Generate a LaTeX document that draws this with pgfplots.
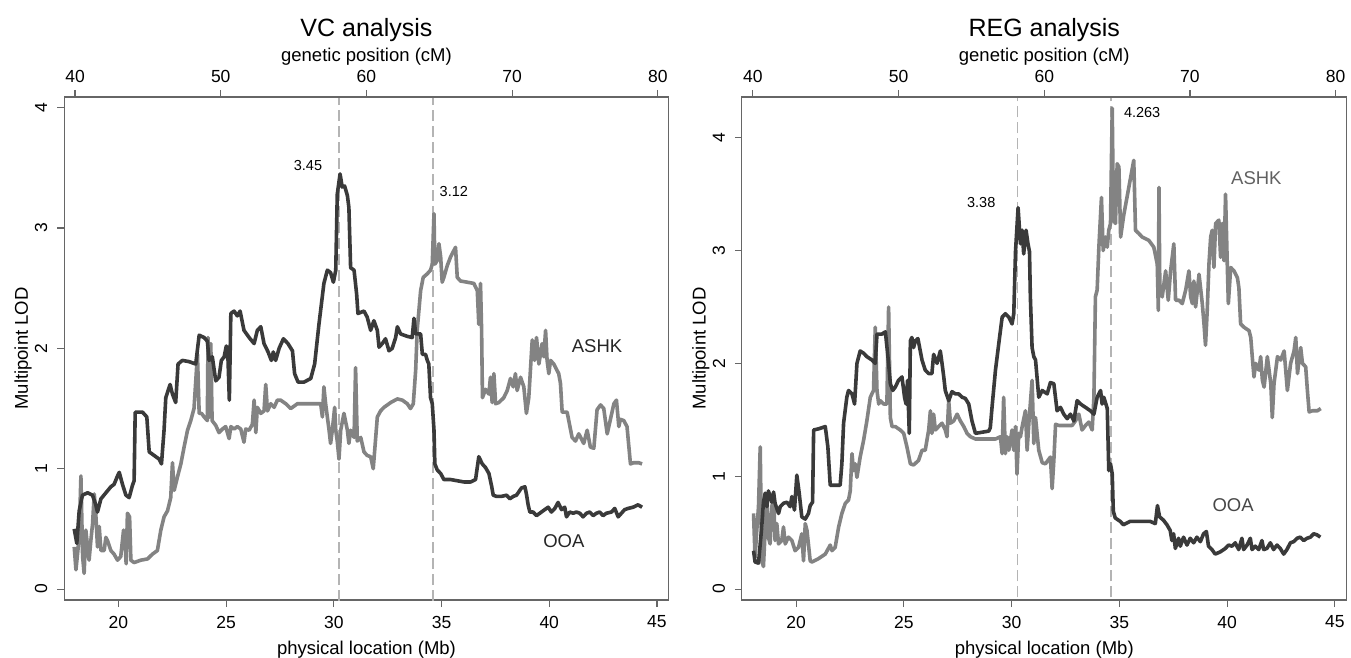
\documentclass[border=0pt]{standalone}
\usepackage{fontspec}
\setmainfont{Liberation Sans}
\usepackage{pgfplots}
\pgfplotsset{compat=1.18}

\definecolor{ooa}{HTML}{3A3A3A}
\definecolor{ashk}{HTML}{838383}
\definecolor{refl}{HTML}{B4B4B4}
\definecolor{frame}{HTML}{666666}

\pgfplotsset{
  lodframe/.style={
    scale only axis, width=604.7pt, height=503pt, anchor=south west,
    axis line style={frame, line width=1.1pt},
    tick style={frame, line width=1.1pt},
    tick align=outside, major tick length=7pt,
    /pgf/number format/assume math mode=true,
    tick label style={font=\fontsize{17.5}{20}\selectfont},
    label style={font=\fontsize{18.5}{22}\selectfont},
  },
  lodmain/.style={
    lodframe,
    xmin=17.48, xmax=45.55,
    xtick={20,25,...,45}, xtick pos=lower,
    ytick={0,1,2,3,4}, ytick pos=left,
    xticklabel style={anchor=center, yshift=-15pt},
    yticklabel style={anchor=center, rotate=90, yshift=16pt},
    xlabel={physical location (Mb)},
    xlabel style={at={([yshift=-50pt]axis description cs:0.5,0)}, anchor=center},
    ylabel={Multipoint LOD},
    ylabel style={at={([xshift=-41pt]axis description cs:0,0.5)}, anchor=center},
    title style={at={([yshift=61pt]axis description cs:0.5,1)}, anchor=center,
      font=\fontsize{25}{30}\selectfont},
    clip=true,
  },
  lodtop/.style={
    lodframe,
    xmin=39.25, xmax=80.75, ymin=0, ymax=1,
    axis x line*=top, hide y axis,
    xtick={40,50,...,80},
    xticklabel style={anchor=center, yshift=13.7pt},
    xlabel={genetic position (cM)},
    xlabel style={at={([yshift=40pt]axis description cs:0.5,1)}, anchor=center},
  },
  ooaline/.style={ooa, line width=3.6pt, line join=round, no marks},
  ashkline/.style={ashk, line width=3.6pt, line join=round, no marks},
  refline/.style={refl, line width=1.5pt, dash pattern=on 11pt off 5pt, no marks},
}

\begin{document}
\begin{tikzpicture}
\path[use as bounding box] (0,0) rectangle (1351pt,657pt);

% ---------------- VC analysis ----------------
\begin{axis}[lodmain, at={(64.1pt,57pt)}, ymin=-0.091, ymax=4.089, title={VC analysis}]
\addplot[refline] coordinates {(30.25,-0.5) (30.25,4.6)};
\addplot[refline] coordinates {(34.6,-0.5) (34.6,4.6)};
% ASHK
\addplot[ashkline] coordinates {
(17.95,0.35) (18.03,0.16) (18.18,0.43) (18.26,0.94) (18.34,0.27) (18.41,0.13)
(18.49,0.49) (18.57,0.35) (18.64,0.24) (18.72,0.40) (18.80,0.54) (18.88,0.79)
(18.95,0.63) (19.03,0.35) (19.11,0.52) (19.19,0.32) (19.34,0.32) (19.42,0.43)
(19.50,0.40) (19.65,0.32) (19.80,0.29) (19.96,0.24) (20.11,0.27) (20.24,0.49)
(20.31,0.40) (20.36,0.21) (20.42,0.63) (20.52,0.60) (20.58,0.24) (20.73,0.22)
(21.04,0.24) (21.35,0.25) (21.58,0.29) (21.81,0.32) (21.97,0.49) (22.12,0.60)
(22.28,0.65) (22.43,0.76) (22.51,1.05) (22.59,0.82) (22.74,0.93) (22.90,1.04)
(23.05,1.18) (23.21,1.32) (23.36,1.40) (23.51,1.50) (23.67,1.95) (23.75,1.46)
(23.86,1.46) (23.98,1.43) (24.13,1.40) (24.16,2.09) (24.23,1.43) (24.29,2.04)
(24.35,1.40) (24.52,1.36) (24.67,1.30) (24.83,1.33) (24.98,1.35) (25.14,1.25)
(25.22,1.35) (25.37,1.33) (25.52,1.35) (25.68,1.33) (25.83,1.22) (25.91,1.33)
(26.07,1.32) (26.22,1.37) (26.30,1.57) (26.38,1.30) (26.45,1.51) (26.61,1.46)
(26.76,1.48) (26.84,1.70) (26.92,1.48) (27.07,1.54) (27.23,1.51) (27.38,1.57)
(27.53,1.57) (27.77,1.54) (28.00,1.50) (28.31,1.54) (28.62,1.54) (28.93,1.54)
(29.39,1.54) (29.47,1.43) (29.54,1.68) (29.62,1.54) (29.78,1.32) (29.85,1.21)
(29.93,1.32) (30.04,1.51) (30.09,1.32) (30.16,1.23) (30.24,1.08) (30.32,1.32)
(30.47,1.46) (30.63,1.32) (30.70,1.21) (30.78,1.32) (30.94,1.26) (31.01,1.84)
(31.09,1.23) (31.25,1.26) (31.40,1.14) (31.55,1.11) (31.71,1.10) (31.83,1.00)
(32.02,1.43) (32.17,1.48) (32.33,1.51) (32.64,1.55) (32.95,1.58) (33.18,1.57)
(33.41,1.54) (33.56,1.50) (33.69,1.54) (33.80,1.82) (33.87,2.15) (34.03,2.48)
(34.15,2.59) (34.34,2.62) (34.49,2.65) (34.57,2.70) (34.65,3.12) (34.69,2.70)
(34.80,2.73) (34.88,2.87) (34.96,2.76) (35.03,2.55) (35.11,2.59) (35.27,2.69)
(35.42,2.76) (35.65,2.84) (35.73,2.59) (35.88,2.56) (36.19,2.55) (36.50,2.54)
(36.66,2.48) (36.73,2.20) (36.81,2.54) (36.86,2.15) (36.90,1.59) (37.04,1.66)
(37.20,1.62) (37.27,1.76) (37.35,1.55) (37.43,1.79) (37.51,1.54) (37.66,1.55)
(37.89,1.59) (38.05,1.65) (38.20,1.75) (38.33,1.68) (38.43,1.79) (38.51,1.65)
(38.67,1.76) (38.82,1.68) (38.94,1.46) (39.05,1.59) (39.21,2.07) (39.32,1.90)
(39.41,2.09) (39.52,1.87) (39.67,2.04) (39.75,1.93) (39.83,2.15) (39.90,1.90)
(39.98,1.79) (40.06,1.90) (40.21,1.87) (40.44,1.79) (40.52,1.71) (40.60,1.47)
(40.83,1.47) (41.06,1.26) (41.22,1.23) (41.37,1.29) (41.60,1.21) (41.76,1.32)
(41.91,1.18) (42.07,1.17) (42.22,1.49) (42.38,1.53) (42.53,1.50) (42.69,1.29)
(42.84,1.41) (43.00,1.54) (43.12,1.57) (43.23,1.35) (43.30,1.41) (43.46,1.40)
(43.61,1.35) (43.77,1.04) (43.92,1.05) (44.15,1.05) (44.31,1.04)
};
% OOA
\addplot[ooaline] coordinates {
(17.95,0.50) (18.07,0.38) (18.18,0.65) (18.33,0.78) (18.57,0.80) (18.80,0.78)
(18.95,0.70) (19.03,0.64) (19.19,0.75) (19.42,0.80) (19.65,0.85) (19.80,0.87)
(19.96,0.94) (20.04,0.97) (20.19,0.87) (20.35,0.78) (20.50,0.76) (20.65,0.86)
(20.73,0.90) (20.78,1.47) (21.12,1.47) (21.32,1.43) (21.43,1.14) (21.66,1.11)
(21.89,1.08) (22.00,1.04) (22.12,1.32) (22.20,1.59) (22.40,1.70) (22.51,1.62)
(22.66,1.55) (22.77,1.87) (22.97,1.90) (23.28,1.89) (23.59,1.87) (23.75,2.11)
(23.98,2.09) (24.13,2.06) (24.21,1.90) (24.36,1.93) (24.52,1.73) (24.67,1.76)
(24.78,1.90) (24.91,1.93) (25.01,2.02) (25.09,1.90) (25.15,1.57) (25.22,2.29)
(25.37,2.31) (25.52,2.27) (25.65,2.31) (25.83,2.15) (26.07,2.09) (26.30,2.04)
(26.45,2.15) (26.61,2.18) (26.76,2.04) (26.95,1.97) (27.10,1.90) (27.19,1.97)
(27.30,1.90) (27.46,2.00) (27.66,2.08) (27.87,2.04) (28.08,1.98) (28.18,1.79)
(28.34,1.72) (28.62,1.72) (28.93,1.75) (29.11,1.87) (29.31,2.20) (29.54,2.54)
(29.70,2.65) (29.85,2.63) (29.98,2.55) (30.09,2.65) (30.16,3.28) (30.29,3.45)
(30.39,3.34) (30.50,3.35) (30.63,3.27) (30.70,3.17) (30.78,2.67) (30.94,2.65)
(31.06,2.45) (31.12,2.29) (31.40,2.31) (31.55,2.26) (31.71,2.15) (31.86,2.23)
(32.02,2.15) (32.10,2.01) (32.25,2.04) (32.40,2.08) (32.56,1.98) (32.71,2.00)
(32.87,2.09) (32.95,2.18) (33.10,2.12) (33.41,2.10) (33.64,2.09) (33.72,2.25)
(33.80,2.12) (34.03,2.12) (34.11,1.95) (34.26,1.95) (34.34,1.90) (34.41,1.87)
(34.49,1.59) (34.57,1.54) (34.65,1.32) (34.69,1.04) (34.80,0.99) (34.96,0.96)
(35.11,0.91) (35.42,0.91) (35.73,0.90) (36.04,0.89) (36.35,0.89) (36.58,0.91)
(36.73,1.10) (36.89,1.04) (37.04,1.01) (37.20,0.96) (37.32,0.86) (37.40,0.78)
(37.55,0.77) (37.78,0.77) (38.02,0.78) (38.17,0.75) (38.33,0.77) (38.48,0.78)
(38.71,0.84) (38.87,0.85) (38.94,0.79) (39.02,0.70) (39.10,0.64) (39.25,0.64)
(39.41,0.61) (39.56,0.63) (39.79,0.66) (39.95,0.68) (40.10,0.64) (40.26,0.67)
(40.41,0.72) (40.57,0.66) (40.72,0.68) (40.80,0.60) (40.95,0.64) (41.11,0.63)
(41.26,0.64) (41.42,0.63) (41.57,0.60) (41.73,0.63) (41.88,0.64) (42.04,0.61)
(42.19,0.63) (42.34,0.64) (42.50,0.61) (42.65,0.63) (42.89,0.64) (43.04,0.67)
(43.20,0.60) (43.35,0.63) (43.50,0.66) (43.66,0.67) (43.89,0.68) (44.12,0.70)
(44.31,0.68)
};
\node[font=\fontsize{14.5}{17}\selectfont] at (axis cs:28.80,3.52) {3.45};
\node[font=\fontsize{14.5}{17}\selectfont] at (axis cs:35.57,3.30) {3.12};
\node[font=\fontsize{18.5}{22}\selectfont, text=black!85] at (axis cs:42.22,2.02) {ASHK};
\node[font=\fontsize{18.5}{22}\selectfont, text=black!85] at (axis cs:40.68,0.40) {OOA};
\end{axis}
\begin{axis}[lodtop, at={(64.1pt,57pt)}]
\end{axis}

% ---------------- REG analysis ----------------
\begin{axis}[lodmain, at={(741.9pt,57pt)}, ymin=-0.097, ymax=4.361, title={REG analysis}]
\addplot[refline] coordinates {(30.28,-0.5) (30.28,4.9)};
\addplot[refline] coordinates {(34.62,-0.5) (34.62,4.9)};
% ASHK
\addplot[ashkline] coordinates {
(18.02,0.67) (18.09,0.28) (18.17,0.52) (18.25,0.73) (18.33,1.26) (18.40,0.25)
(18.48,0.20) (18.56,0.52) (18.64,0.82) (18.71,0.46) (18.79,0.40) (18.87,0.73)
(18.95,0.82) (19.02,0.43) (19.10,0.58) (19.18,0.40) (19.33,0.43) (19.41,0.55)
(19.49,0.40) (19.64,0.46) (19.80,0.43) (19.95,0.34) (20.11,0.37) (20.26,0.49)
(20.34,0.25) (20.42,0.58) (20.50,0.52) (20.65,0.25) (20.73,0.24) (21.04,0.27)
(21.35,0.31) (21.58,0.39) (21.66,0.34) (21.81,0.37) (21.97,0.55) (22.12,0.67)
(22.28,0.76) (22.43,0.79) (22.51,0.87) (22.59,1.20) (22.66,1.05) (22.74,1.11)
(22.82,0.99) (22.97,1.17) (23.13,1.32) (23.28,1.49) (23.44,1.70) (23.59,1.76)
(23.67,2.32) (23.75,1.76) (23.83,1.64) (23.90,1.67) (24.06,1.64) (24.21,1.64)
(24.29,2.50) (24.37,1.52) (24.45,1.44) (24.60,1.44) (24.83,1.41) (24.99,1.38)
(25.14,1.26) (25.30,1.11) (25.45,1.10) (25.68,1.14) (25.84,1.23) (25.99,1.23)
(26.15,1.41) (26.23,1.58) (26.30,1.38) (26.38,1.55) (26.46,1.41) (26.61,1.44)
(26.77,1.47) (26.92,1.41) (27.00,1.35) (27.08,1.67) (27.16,1.47) (27.31,1.49)
(27.47,1.55) (27.62,1.49) (27.78,1.44) (27.93,1.38) (28.09,1.35) (28.32,1.33)
(28.63,1.33) (28.94,1.33) (29.25,1.33) (29.48,1.35) (29.56,1.20) (29.63,1.70)
(29.71,1.20) (29.79,1.35) (29.87,1.23) (30.02,1.41) (30.10,1.23) (30.18,1.44)
(30.25,1.02) (30.33,1.38) (30.41,1.35) (30.49,1.44) (30.64,1.58) (30.72,1.23)
(30.80,1.47) (30.95,1.85) (31.03,1.29) (31.11,1.52) (31.26,1.23) (31.42,1.12)
(31.57,1.11) (31.80,1.17) (31.88,0.89) (31.96,1.14) (32.04,1.46) (32.19,1.45)
(32.50,1.45) (32.81,1.45) (32.96,1.49) (33.12,1.55) (33.27,1.41) (33.43,1.45)
(33.58,1.48) (33.74,1.41) (33.82,1.70) (33.89,2.59) (33.97,2.65) (34.05,3.03)
(34.17,3.47) (34.25,3.00) (34.36,3.12) (34.44,3.03) (34.51,3.18) (34.59,3.24)
(34.67,4.263) (34.73,3.27) (34.82,3.24) (34.90,3.77) (34.98,3.74) (35.06,3.12)
(35.21,3.32) (35.44,3.56) (35.67,3.80) (35.75,3.18) (35.91,3.15) (36.06,3.12)
(36.37,3.09) (36.60,3.03) (36.76,2.88) (36.81,2.47) (36.84,3.56) (36.88,2.65)
(36.99,2.59) (37.15,2.82) (37.27,2.56) (37.38,2.82) (37.53,3.06) (37.61,2.56)
(37.77,2.56) (37.92,2.53) (38.08,2.65) (38.23,2.82) (38.31,2.59) (38.39,2.53)
(38.46,2.73) (38.54,2.50) (38.70,2.79) (38.85,2.53) (38.93,2.35) (39.00,2.16)
(39.08,2.47) (39.16,2.88) (39.24,3.12) (39.31,3.18) (39.39,2.85) (39.47,3.24)
(39.62,3.27) (39.70,2.94) (39.78,3.24) (39.86,2.91) (39.93,3.50) (40.01,2.88)
(40.06,2.53) (40.17,2.85) (40.32,2.82) (40.48,2.76) (40.55,2.67) (40.63,2.35)
(40.79,2.32) (41.02,2.29) (41.10,2.23) (41.17,2.06) (41.25,1.88) (41.33,2.00)
(41.48,1.94) (41.56,2.06) (41.64,1.85) (41.72,1.79) (41.87,2.06) (42.03,1.82)
(42.10,1.52) (42.18,1.82) (42.34,2.06) (42.49,2.03) (42.65,2.11) (42.80,1.76)
(42.95,2.00) (43.11,2.11) (43.19,2.23) (43.27,1.91) (43.34,2.03) (43.42,2.14)
(43.50,2.00) (43.65,1.97) (43.73,1.76) (43.81,1.57) (43.96,1.58) (44.19,1.58)
(44.35,1.60)
};
% OOA
\addplot[ooaline] coordinates {
(18.02,0.34) (18.09,0.24) (18.25,0.23) (18.33,0.40) (18.40,0.55) (18.48,0.77)
(18.56,0.85) (18.64,0.73) (18.71,0.87) (18.87,0.77) (18.95,0.86) (19.02,0.76)
(19.18,0.67) (19.26,0.73) (19.41,0.76) (19.57,0.77) (19.72,0.73) (19.80,0.82)
(19.92,0.70) (20.03,1.01) (20.14,0.85) (20.26,0.64) (20.42,0.62) (20.57,0.67)
(20.65,0.74) (20.76,0.77) (20.81,1.41) (21.04,1.42) (21.35,1.44) (21.47,1.26)
(21.58,0.92) (21.81,0.92) (22.04,0.92) (22.12,1.11) (22.20,1.47) (22.35,1.70)
(22.43,1.76) (22.59,1.73) (22.71,1.64) (22.82,2.00) (22.97,2.11) (23.13,2.09)
(23.28,2.06) (23.52,2.03) (23.67,2.00) (23.75,2.26) (23.98,2.26) (24.14,2.28)
(24.29,2.00) (24.37,1.82) (24.48,1.76) (24.60,1.79) (24.75,1.85) (24.91,1.88)
(24.99,1.76) (25.03,1.70) (25.10,1.64) (25.17,1.85) (25.25,1.38) (25.30,2.20)
(25.37,2.23) (25.45,2.14) (25.53,2.20) (25.65,2.22) (25.76,2.11) (25.84,2.03)
(25.99,1.94) (26.15,1.91) (26.30,1.91) (26.38,2.08) (26.54,2.00) (26.69,2.11)
(26.77,2.00) (26.85,1.88) (26.92,1.76) (27.08,1.67) (27.23,1.75) (27.39,1.73)
(27.54,1.73) (27.70,1.70) (27.85,1.69) (28.01,1.64) (28.16,1.49) (28.32,1.38)
(28.63,1.39) (28.94,1.40) (29.01,1.43) (29.09,1.61) (29.25,1.94) (29.40,2.17)
(29.56,2.41) (29.71,2.44) (29.87,2.41) (30.02,2.35) (30.10,2.44) (30.18,2.99)
(30.30,3.38) (30.41,3.06) (30.49,3.18) (30.56,2.97) (30.67,3.18) (30.76,3.06)
(30.83,2.99) (30.87,2.59) (30.95,2.14) (31.03,2.06) (31.11,2.03) (31.26,1.70)
(31.42,1.76) (31.65,1.73) (31.80,1.83) (31.96,1.82) (32.11,1.58) (32.27,1.61)
(32.42,1.55) (32.58,1.51) (32.73,1.55) (32.89,1.49) (33.04,1.67) (33.20,1.64)
(33.43,1.61) (33.66,1.58) (33.82,1.55) (33.97,1.70) (34.13,1.76) (34.20,1.64)
(34.28,1.70) (34.44,1.60) (34.51,1.05) (34.59,1.11) (34.67,1.02) (34.72,0.69)
(34.81,0.63) (35.04,0.60) (35.19,0.57) (35.50,0.60) (36.00,0.60) (36.43,0.60)
(36.67,0.58) (36.77,0.74) (36.87,0.64) (37.05,0.61) (37.21,0.57) (37.36,0.52)
(37.44,0.43) (37.52,0.49) (37.60,0.36) (37.75,0.45) (37.83,0.38) (37.98,0.46)
(38.14,0.39) (38.29,0.45) (38.45,0.41) (38.60,0.46) (38.76,0.42) (38.91,0.49)
(39.04,0.51) (39.14,0.38) (39.30,0.35) (39.45,0.31) (39.69,0.33) (39.92,0.36)
(40.07,0.39) (40.23,0.38) (40.38,0.41) (40.54,0.35) (40.69,0.45) (40.77,0.35)
(40.93,0.39) (41.08,0.45) (41.16,0.35) (41.31,0.38) (41.47,0.35) (41.62,0.43)
(41.70,0.35) (41.85,0.36) (42.01,0.41) (42.16,0.35) (42.32,0.39) (42.47,0.36)
(42.63,0.31) (42.78,0.35) (42.94,0.41) (43.09,0.42) (43.25,0.45) (43.40,0.46)
(43.56,0.43) (43.71,0.45) (43.87,0.46) (44.02,0.49) (44.18,0.48) (44.33,0.46)
};
\node[font=\fontsize{14.5}{17}\selectfont] at (axis cs:28.59,3.43) {3.38};
\node[font=\fontsize{14.5}{17}\selectfont] at (axis cs:36.06,4.225) {4.263};
\node[font=\fontsize{18.5}{22}\selectfont, text=black!62] at (axis cs:41.36,3.64) {ASHK};
\node[font=\fontsize{18.5}{22}\selectfont, text=black!72] at (axis cs:40.28,0.74) {OOA};
\end{axis}
\begin{axis}[lodtop, at={(741.9pt,57pt)}]
\end{axis}
\end{tikzpicture}
\end{document}
